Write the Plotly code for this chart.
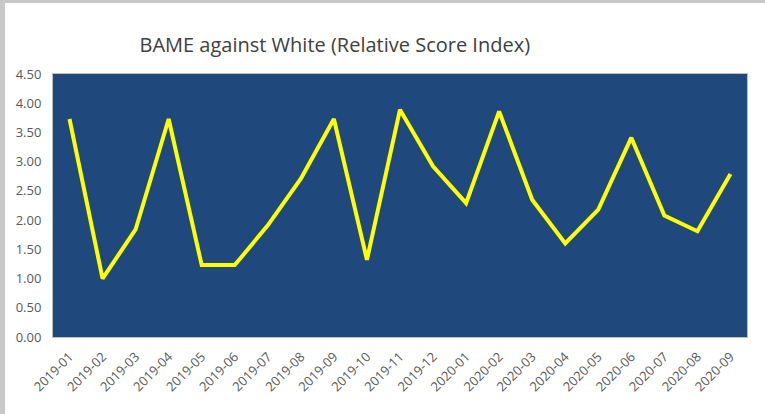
import plotly.graph_objects as go

months = ["2019-01", "2019-02", "2019-03", "2019-04", "2019-05", "2019-06", "2019-07",
          "2019-08", "2019-09", "2019-10", "2019-11", "2019-12", "2020-01", "2020-02",
          "2020-03", "2020-04", "2020-05", "2020-06", "2020-07", "2020-08", "2020-09"]
score_index = [3.73, 1.00, 1.84, 3.73, 1.23, 1.23, 1.91, 2.71, 3.73, 1.32, 3.89,
               2.92, 2.29, 3.86, 2.35, 1.60, 2.18, 3.41, 2.08, 1.81, 2.79]
y_ticks = [0, 0.5, 1, 1.5, 2, 2.5, 3, 3.5, 4, 4.5]
title_text = "BAME against White (Relative Score Index)"

fig = go.Figure()
fig.add_trace(go.Scatter(x=months, y=score_index, mode="lines",
                         line=dict(color="#FFFF00", width=4), showlegend=False,
                         hoverinfo="skip"))

fig.update_layout(
    width=765, height=414,
    margin=dict(l=53, r=18, t=74, b=77),
    paper_bgcolor="white",
    plot_bgcolor="#1F497D",
    font=dict(family="Open Sans, Liberation Sans, sans-serif", color="#595959"),
    title=dict(text=title_text, x=0.406, xanchor="center", xref="paper",
               y=1 - 45 / 414, yanchor="middle", yref="container",
               font=dict(size=20, color="#404040")),
    xaxis=dict(type="category", range=[-0.5, len(months) - 0.5], tickangle=-45,
               showgrid=False, zeroline=False, ticklabelstandoff=6,
               showline=True, linecolor="#BFBFBF", mirror=True, ticks="",
               tickfont=dict(size=13, color="#595959")),
    yaxis=dict(range=[0, 4.5], tickvals=y_ticks, tickformat=".2f", showgrid=False,
               zeroline=False, showline=True, linecolor="#BFBFBF", mirror=True,
               ticks="", ticklabelstandoff=8, tickfont=dict(size=13, color="#595959")),
    shapes=[
        dict(type="rect", xref="paper", yref="paper", x0=-1, x1=-48 / 694,
             y0=-1, y1=2, fillcolor="#C8C8C8", line=dict(width=0), layer="above"),
        dict(type="rect", xref="paper", yref="paper", x0=-1, x1=2,
             y0=1 + 71 / 263, y1=2, fillcolor="#C8C8C8", line=dict(width=0), layer="above"),
    ],
)

fig.write_html("out.html", config={"displayModeBar": False},
               post_script="document.body.style.margin='0px';document.body.style.overflow='hidden';")
